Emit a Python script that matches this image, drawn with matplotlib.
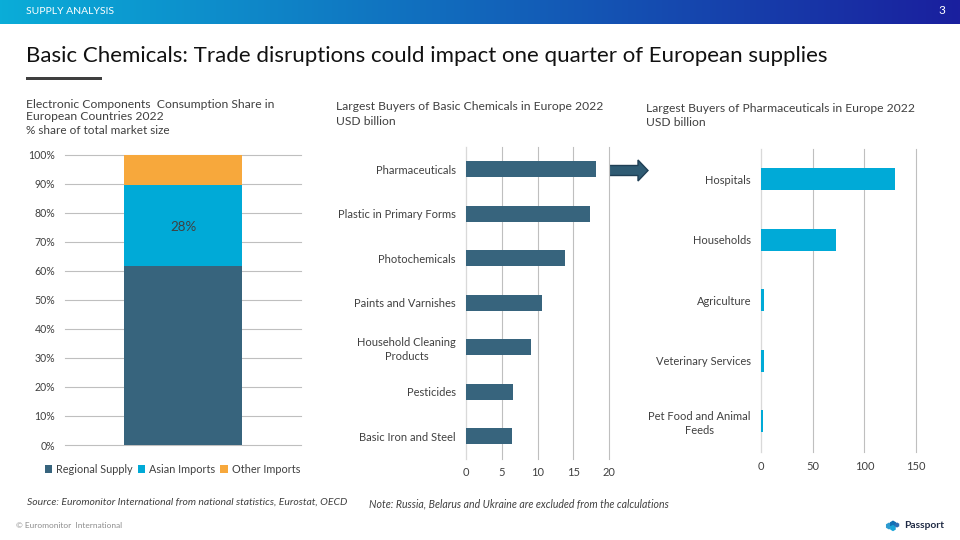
import numpy as np
import matplotlib
matplotlib.use("Agg")
import matplotlib.pyplot as plt
from matplotlib.patches import FancyArrow, Rectangle, RegularPolygon

plt.rcParams['font.family'] = ['Lato', 'DejaVu Sans']

W, H = 960, 540
TXT = '#404040'
DARK = '#37647D'
CYAN = '#00AAD7'
ORANGE = '#F7A83C'
GRID = '#BFBFBF'

# data
share_ticks = [0, 10, 20, 30, 40, 50, 60, 70, 80, 90, 100]
share_names = ['Regional Supply', 'Asian Imports', 'Other Imports']
share_values = [61.7, 27.8, 10.5]
share_colors = [DARK, CYAN, ORANGE]
share_label = '28%'

chem_names = ['Pharmaceuticals', 'Plastic in Primary Forms', 'Photochemicals',
              'Paints and Varnishes', 'Household Cleaning\nProducts',
              'Pesticides', 'Basic Iron and Steel']
chem_values = [18.1, 17.3, 13.8, 10.6, 9.1, 6.6, 6.4]
chem_ticks = [0, 5, 10, 15, 20]

pharma_names = ['Hospitals', 'Households', 'Agriculture', 'Veterinary Services',
                'Pet Food and Animal\nFeeds']
pharma_values = [129.5, 72.5, 3.5, 3.5, 2.0]
pharma_ticks = [0, 50, 100, 150]


def box(l, t, r, b):
    return [l / W, 1 - b / H, (r - l) / W, (b - t) / H]


def ftext(x, y, s, **kw):
    kw.setdefault('color', TXT)
    kw.setdefault('fontsize', 7.6)
    kw.setdefault('va', 'center')
    fig.text(x / W, 1 - y / H, s, **kw)


fig = plt.figure(figsize=(W / 100, H / 100), dpi=100, facecolor='white')

# page layer
bg = fig.add_axes([0, 0, 1, 1], zorder=-1)
bg.set_xlim(0, W)
bg.set_ylim(H, 0)
bg.axis('off')
c0 = np.array([0x0A, 0xAD, 0xD8]) / 255
c1 = np.array([0x1A, 0x1F, 0x9E]) / 255
t = np.linspace(0, 1, 480)[None, :, None]
bg.imshow(c0 + (c1 - c0) * t, extent=(0, W, 24, 0), aspect='auto', zorder=1)
bg.set_xlim(0, W)
bg.set_ylim(H, 0)
bg.add_patch(Rectangle((26, 76.5), 76, 3.5, color='#3F3F3F', lw=0))

# header and titles
ftext(26, 12, 'SUPPLY ANALYSIS', color='white', fontsize=7.5)
ftext(942, 11, '3', color='white', fontsize=8.5, ha='center')
ftext(26, 56, 'Basic Chemicals: Trade disruptions could impact one quarter of European supplies',
      color='#111111', fontsize=16.0)
ftext(26, 104, 'Electronic Components  Consumption Share in', fontsize=8.7)
ftext(26, 117, 'European Countries 2022', fontsize=8.7)
ftext(26, 131, '% share of total market size', fontsize=8.5)
ftext(336, 107, 'Largest Buyers of Basic Chemicals in Europe 2022', fontsize=8.7)
ftext(336, 122, 'USD billion', fontsize=8.7)
ftext(646, 108, 'Largest Buyers of Pharmaceuticals in Europe 2022', fontsize=8.7)
ftext(646, 123, 'USD billion', fontsize=8.7)

# left stacked chart
ax1 = fig.add_axes(box(65, 154.5, 301, 445))
bottom = 0
for name, val, col in zip(share_names, share_values, share_colors):
    ax1.bar(0, val, width=0.5, bottom=bottom, color=col, label=name, zorder=3)
    bottom += val
ax1.annotate(share_label, (0, share_values[0] + share_values[1] / 2), xytext=(0, -1.5),
             textcoords='offset points', ha='center', va='center',
             color=TXT, fontsize=9.6, zorder=4)
ax1.set_xlim(-0.5, 0.5)
ax1.set_ylim(0, 100)
ax1.set_yticks(share_ticks)
ax1.set_yticklabels([f'{v}%' for v in share_ticks], fontsize=7.6, color=TXT)
ax1.set_xticks([])
ax1.grid(axis='y', color=GRID, lw=0.8, zorder=0)
for g in ax1.get_ygridlines():
    g.set_clip_on(False)
ax1.tick_params(axis='y', length=0, pad=7)
for s in ax1.spines.values():
    s.set_visible(False)
ax1.legend(loc='upper center', bbox_to_anchor=(0.455, -0.065), ncol=3, frameon=False,
           fontsize=7.85, labelcolor=TXT, handlelength=0.7, handleheight=0.7,
           handletextpad=0.35, columnspacing=0.45, borderpad=0, borderaxespad=0)


def hbars(ax, names, values, ticks, xmax, color, height, fs):
    y = np.arange(len(names))
    ax.axvline(0, color='#D9D9D9', lw=0.8, zorder=2, clip_on=False)
    ax.barh(y, values, height=height, color=color, lw=0, zorder=3)
    ax.set_ylim(len(names) - 0.5, -0.5)
    ax.set_xlim(0, xmax)
    ax.set_yticks(y)
    ax.set_yticklabels(names, fontsize=fs, color=TXT, linespacing=1.35, ha='right',
                       va='center_baseline', multialignment='center')
    ax.set_xticks(ticks)
    ax.set_xticklabels([str(v) for v in ticks], fontsize=fs, color=TXT)
    ax.grid(axis='x', color=GRID, lw=0.8, zorder=0)
    for g in ax.get_xgridlines():
        g.set_clip_on(False)
    ax.tick_params(length=0)
    for s in ax.spines.values():
        s.set_visible(False)


# middle chart
ax2 = fig.add_axes(box(465.7, 147, 609.3, 458.5))
hbars(ax2, chem_names, chem_values, chem_ticks, 20, DARK, 0.36, 8.0)
ax2.tick_params(axis='x', pad=6)
ax2.tick_params(axis='y', pad=7)

# right chart
ax3 = fig.add_axes(box(760.7, 149, 916.3, 451.5))
hbars(ax3, pharma_names, pharma_values, pharma_ticks, 150, CYAN, 0.365, 8.0)
ax3.tick_params(axis='x', pad=6.5)
ax3.tick_params(axis='y', pad=7)

# arrow between the charts
bg.add_patch(FancyArrow(608, 170.5, 30, 0, width=10, head_width=21, head_length=10,
                        length_includes_head=False, facecolor='#2F5B73',
                        edgecolor='#1F3F55', lw=1, zorder=5))

# footers
ftext(27, 502, 'Source: Euromonitor International from national statistics, Eurostat, OECD',
      style='italic', fontsize=7.5)
ftext(369, 503.5, 'Note: Russia, Belarus and Ukraine are excluded from the calculations',
      style='italic', fontsize=7.6)
ftext(16, 526, '© Euromonitor  International', fontsize=5.95, color='#8C8C8C')

# Passport logo
for (x, y, c, r) in [(889, 526, '#2E9BD0', 3.5), (893, 524, '#0F6FB5', 3.5),
                     (893, 528, '#17A3D8', 3.2), (897, 525, '#2B6DB5', 2.6)]:
    bg.add_patch(RegularPolygon((x, y), 6, radius=r, color=c, lw=0))
ftext(904, 525.5, 'Passport', fontsize=7.4, color='#1F2A44', fontweight='bold')

fig.savefig('out.png', dpi=100, facecolor='white')
